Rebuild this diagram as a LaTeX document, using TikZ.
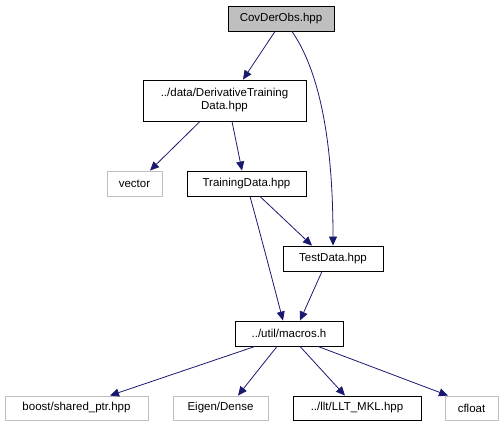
\documentclass[tikz,border=0pt]{standalone}
\usepackage{fontspec}
\setmainfont{Liberation Sans}
\usetikzlibrary{arrows.meta}
\definecolor{edgeblue}{HTML}{191970}
\definecolor{lgray}{HTML}{BFBFBF}
\begin{document}
\begin{tikzpicture}[x=1pt,y=-1pt,
  box/.style={draw=black,line width=0.9pt,fill=white,inner sep=0pt,font=\fontsize{11.5}{13}\selectfont,align=center},
  gbox/.style={draw=lgray,line width=0.9pt,fill=white,inner sep=0pt,font=\fontsize{11.5}{13}\selectfont,align=center},
  edge/.style={draw=edgeblue,line width=0.8pt,-{Triangle[length=9pt,width=8pt]}}]
\useasboundingbox (0,0) rectangle (504,427);
\node[box,fill=lgray,minimum width=106pt,minimum height=25pt] (cov) at (281,18.5) {CovDerObs.hpp};
\node[box,minimum width=163pt,minimum height=41pt] (der) at (224.5,100.5) {../data/DerivativeTraining\\Data.hpp};
\node[gbox,minimum width=55pt,minimum height=25pt] (vec) at (134.5,183.5) {vector};
\node[box,minimum width=119pt,minimum height=25pt] (tra) at (246.5,183.5) {TrainingData.hpp};
\node[box,minimum width=100pt,minimum height=25pt] (tes) at (333,258.5) {TestData.hpp};
\node[box,minimum width=108pt,minimum height=25pt] (mac) at (289,333.5) {../util/macros.h};
\node[gbox,minimum width=143pt,minimum height=24pt] (boo) at (76.5,408) {boost/shared\_ptr.hpp};
\node[gbox,minimum width=95pt,minimum height=24pt] (eig) at (220.5,408) {Eigen/Dense};
\node[box,minimum width=128pt,minimum height=24pt] (llt) at (357,408) {../llt/LLT\_MKL.hpp};
\node[gbox,minimum width=53pt,minimum height=24pt] (cfl) at (471.5,408) {cfloat};
\draw[edge] ([xshift=-6pt]cov.south) -- ([xshift=18.5pt]der.north);
\draw[edge] ([xshift=11pt]cov.south) .. controls (322,75) and (333,150) .. (tes.north);
\draw[edge] ([xshift=-24.5pt]der.south) -- ([xshift=15.5pt]vec.north);
\draw[edge] ([xshift=7.5pt]der.south) -- ([xshift=-4.5pt]tra.north);
\draw[edge] ([xshift=13.5pt]tra.south) -- ([xshift=-21pt]tes.north);
\draw[edge] ([xshift=3.5pt]tra.south) .. controls (262,240) and (275,290) .. ([xshift=-6pt]mac.north);
\draw[edge] ([xshift=-11pt]tes.south) -- ([xshift=11pt]mac.north);
\draw[edge] ([xshift=-34pt]mac.south) -- ([xshift=33.5pt]boo.north);
\draw[edge] ([xshift=-12pt]mac.south) -- ([xshift=17.5pt]eig.north);
\draw[edge] ([xshift=11pt]mac.south) -- ([xshift=-12pt]llt.north);
\draw[edge] ([xshift=29pt]mac.south) -- ([xshift=-23.5pt]cfl.north);
\end{tikzpicture}
\end{document}
